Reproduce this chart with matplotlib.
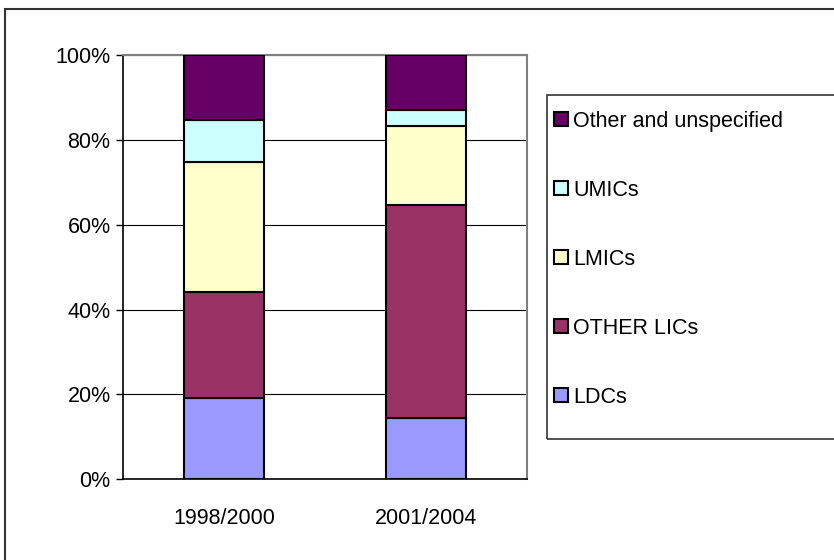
import matplotlib.pyplot as plt
from matplotlib.patches import Patch, Rectangle

plt.rcParams['font.family'] = ['Liberation Sans', 'DejaVu Sans']

# shares (%)
periods = ['1998/2000', '2001/2004']
series = ['LDCs', 'OTHER LICs', 'LMICs', 'UMICs', 'Other and unspecified']
ldcs = [19.1, 14.5]
other_lics = [25.1, 50.1]
lmics = [30.5, 18.6]
umics = [10.0, 3.9]
other = [15.3, 12.9]
colors = ['#9999FF', '#993366', '#FFFFCC', '#CCFFFF', '#660066']

fig = plt.figure(figsize=(8.34, 5.6), dpi=100)
ax = fig.add_axes([0.1475, 0.1441, 0.4844, 0.7577])

x = range(len(periods))
bottom = [0.0, 0.0]
handles = []
for name, vals, c in zip(series, [ldcs, other_lics, lmics, umics, other], colors):
    ax.bar(x, vals, 0.4, bottom=bottom, color=c, edgecolor='black', linewidth=1.5, zorder=3)
    bottom = [b + v for b, v in zip(bottom, vals)]
    handles.append(Patch(facecolor=c, edgecolor='black', linewidth=1.5, label=name))

ax.set_xlim(-0.5, 1.5)
ax.set_ylim(0, 100)
ax.set_yticks([0, 20, 40, 60, 80, 100])
ax.set_yticklabels(['0%', '20%', '40%', '60%', '80%', '100%'])
ax.set_xticks(list(x))
ax.set_xticklabels(periods)
ax.tick_params(axis='y', length=5, width=1, direction='out', pad=4, labelsize=15.5)
ax.tick_params(axis='x', length=0, pad=21, labelsize=15.5)
ax.grid(axis='y', color='black', linewidth=0.8, zorder=0)
for s in ['top', 'right']:
    ax.spines[s].set_color('#808080')
    ax.spines[s].set_linewidth(1.5)
for s in ['left', 'bottom']:
    ax.spines[s].set_color('black')
    ax.spines[s].set_linewidth(1.2)

# outer chart border and legend box (both run off the right edge)
fig.patches.append(Rectangle((5 / 834, -0.1), 1.0, 1 - 9 / 560 + 0.1, transform=fig.transFigure,
                             fill=False, edgecolor='#333333', linewidth=1.5))
fig.patches.append(Rectangle((547 / 834, 1 - 439 / 560), 1.0, (439 - 95) / 560, transform=fig.transFigure,
                             fill=False, edgecolor='#333333', linewidth=1.2))

leg = fig.legend(handles[::-1], series[::-1], loc='upper left', bbox_to_anchor=(543 / 834, 1 - 100 / 560),
                 frameon=False, fontsize=15.5, handlelength=0.65, handleheight=0.65, handletextpad=0.25,
                 labelspacing=2.23, borderpad=0)

plt.savefig('out.png')
